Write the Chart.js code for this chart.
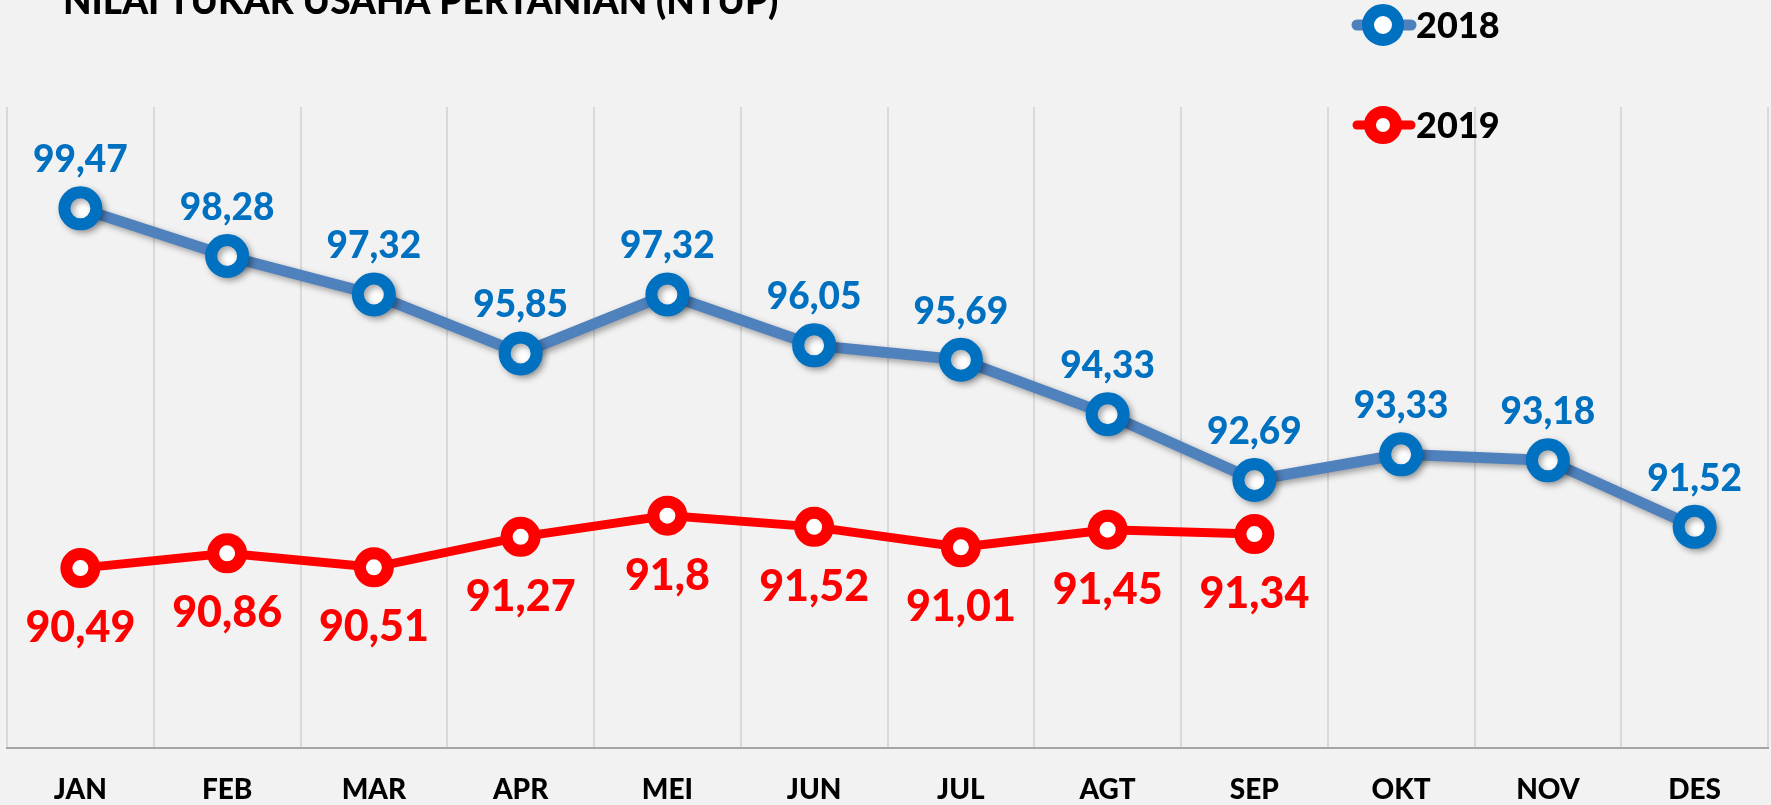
<!DOCTYPE html>
<html>
<head>
<meta charset="utf-8">
<script src="https://cdn.jsdelivr.net/npm/chart.js@4"></script>
<style>
  html, body { margin: 0; padding: 0; background: #f2f2f2; overflow: hidden; }
  #wrap { width: 1771px; height: 805px; }
  canvas { display: block; }
</style>
</head>
<body>
<div id="wrap"><canvas id="ntup" width="1771" height="805"></canvas></div>
<script>
// data
const months = ['JAN', 'FEB', 'MAR', 'APR', 'MEI', 'JUN', 'JUL', 'AGT', 'SEP', 'OKT', 'NOV', 'DES'];
const ntup2018 = [99.47, 98.28, 97.32, 95.85, 97.32, 96.05, 95.69, 94.33, 92.69, 93.33, 93.18, 91.52];
const ntup2019 = [90.49, 90.86, 90.51, 91.27, 91.8, 91.52, 91.01, 91.45, 91.34, null, null, null];
const titleText = 'NILAI TUKAR USAHA PERTANIAN (NTUP)';

const FONT = 'Lato, "Open Sans", sans-serif';

// judul (terpotong di atas seperti aslinya)
const titlePlugin = {
  id: 'title-plugin',
  afterDraw(chart) {
    const ctx = chart.ctx;
    ctx.save();
    ctx.font = '900 37px ' + FONT;
    ctx.fillStyle = '#000';
    ctx.textAlign = 'left';
    ctx.textBaseline = 'alphabetic';
    ctx.fillText(titleText, 63, 14);
    ctx.restore();
  }
};

// bayangan untuk seri 2018
const shadowPlugin = {
  id: 'shadow-plugin',
  beforeDatasetDraw(chart, args) {
    const ctx = chart.ctx;
    ctx.save();
    if (args.index === 0) {
      ctx.shadowColor = 'rgba(0,0,0,0.35)';
      ctx.shadowBlur = 6;
      ctx.shadowOffsetX = 3;
      ctx.shadowOffsetY = 3;
    }
  },
  afterDatasetDraw(chart) {
    chart.ctx.restore();
  }
};

// label nilai
const valueLabelPlugin = {
  id: 'value-labels',
  afterDatasetsDraw(chart) {
    const ctx = chart.ctx;
    const styles = [
      { color: '#0070c0', size: 37, dy: -48 },
      { color: '#ff0000', size: 43, dy: 60 }
    ];
    chart.data.datasets.forEach(function (dataset, i) {
      const meta = chart.getDatasetMeta(i);
      if (meta.hidden) return;
      const st = styles[i];
      ctx.save();
      ctx.font = '900 ' + st.size + 'px ' + FONT;
      ctx.fillStyle = st.color;
      ctx.textAlign = 'center';
      ctx.textBaseline = 'middle';
      meta.data.forEach(function (pt, j) {
        const v = dataset.data[j];
        if (v === null || v === undefined) return;
        ctx.fillText(String(v).replace('.', ','), pt.x, pt.y + st.dy);
      });
      ctx.restore();
    });
  }
};

// legenda kanan atas
const legendPlugin = {
  id: 'side-legend',
  afterDraw(chart) {
    const ctx = chart.ctx;
    const rows = [25, 125];
    chart.data.datasets.forEach(function (ds, i) {
      const y = rows[i];
      ctx.save();
      ctx.lineCap = 'round';
      ctx.strokeStyle = ds.borderColor;
      ctx.lineWidth = ds.borderWidth;
      ctx.beginPath();
      ctx.moveTo(1357, y);
      ctx.lineTo(1411, y);
      ctx.stroke();
      ctx.beginPath();
      ctx.arc(1383, y, ds.pointRadius - 1, 0, Math.PI * 2);
      ctx.fillStyle = ds.pointBackgroundColor;
      ctx.fill();
      ctx.lineWidth = ds.pointBorderWidth;
      ctx.strokeStyle = ds.pointBorderColor;
      ctx.stroke();
      ctx.font = '900 36px ' + FONT;
      ctx.fillStyle = '#000';
      ctx.textAlign = 'left';
      ctx.textBaseline = 'middle';
      ctx.fillText(ds.label, 1416, y + 1);
      ctx.restore();
    });
  }
};

new Chart(document.getElementById('ntup'), {
  type: 'line',
  data: {
    labels: months,
    datasets: [
      {
        label: '2018',
        data: ntup2018,
        borderColor: '#4f81bd',
        borderWidth: 11,
        pointRadius: 16,
        pointHoverRadius: 16,
        pointBorderWidth: 12,
        pointBorderColor: '#0070c0',
        pointBackgroundColor: '#ffffff',
        tension: 0,
      },
      {
        label: '2019',
        data: ntup2019,
        borderColor: '#ff0000',
        borderWidth: 9,
        pointRadius: 14,
        pointHoverRadius: 14,
        pointBorderWidth: 12,
        pointBorderColor: '#ff0000',
        pointBackgroundColor: '#ffffff',
        tension: 0,
      },
    ],
  },
  options: {
    responsive: false,
    animation: false,
    layout: { autoPadding: false, padding: { top: 107, left: 7, right: 3, bottom: 0 } },
    plugins: {
      legend: { display: false },
      title: { display: false },
      tooltip: { enabled: false },
    },
    scales: {
      x: {
        offset: true,
        grid: { offset: true, color: '#d9d9d9', lineWidth: 2, drawTicks: false },
        border: { display: true, color: '#a6a6a6', width: 2 },
        ticks: {
          padding: 28,
          color: '#000',
          font: { family: FONT, size: 28, weight: '900', lineHeight: 1 },
        },
        afterFit(scale) {
          scale.height = 57;
        },
      },
      y: {
        display: false,
        min: 86,
        max: 102,
      },
    },
  },
  plugins: [shadowPlugin, valueLabelPlugin, legendPlugin, titlePlugin],
});
</script>
</body>
</html>
